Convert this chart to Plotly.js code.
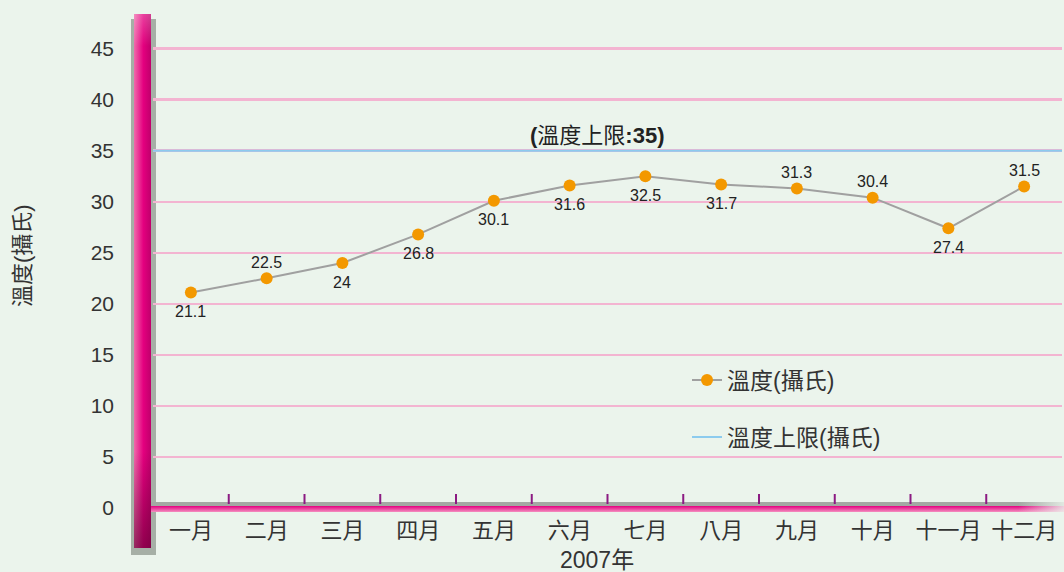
<!DOCTYPE html>
<html>
<head>
<meta charset="utf-8">
<script src="https://cdn.plot.ly/plotly-3.0.1.min.js"></script>
<style>html,body{margin:0;padding:0;background:#ebf4ec;}#chart{width:1064px;height:572px;}</style>
</head>
<body>
<div id="chart"></div>
<script>
// ---- data ----
const months = ['一月','二月','三月','四月','五月','六月','七月','八月','九月','十月','十一月','十二月'];
const temps = [21.1, 22.5, 24, 26.8, 30.1, 31.6, 32.5, 31.7, 31.3, 30.4, 27.4, 31.5];
const labelAbove = [false, true, false, false, false, false, false, false, true, true, false, true];
const limitValue = 35;
const yTicks = [0, 5, 10, 15, 20, 25, 30, 35, 40, 45];
const seriesName = '溫度(攝氏)';
const limitName = '溫度上限(攝氏)';
const limitWord = '溫度上限';
const xTitle = '2007年';
const yTitle = '溫度(攝氏)';

// ---- geometry helpers (pixels -> paper) ----
const W = 1064, H = 572;
const ML = 153, MR = 2, MT = 18, MB = 64;
const PW = W - ML - MR, PH = H - MT - MB;
const px = v => (v - ML) / PW;
const py = v => (H - MB - v) / PH;

const FONT = 'Liberation Sans, Arial, Noto Sans CJK TC, sans-serif';
const svgUri = s => 'data:image/svg+xml;charset=utf-8,' + encodeURIComponent(s);

const barSvg = "<svg xmlns='http://www.w3.org/2000/svg' width='17' height='534' viewBox='0 0 17 534' preserveAspectRatio='none'>" +
  "<defs><linearGradient id='h' x1='0' x2='1' y1='0' y2='0'><stop offset='0' stop-color='#f06aab'/><stop offset='0.55' stop-color='#e4007f'/><stop offset='1' stop-color='#c0006b'/></linearGradient>" +
  "<linearGradient id='v' x1='0' x2='0' y1='0' y2='1'><stop offset='0' stop-color='#ffffff' stop-opacity='0.25'/><stop offset='0.06' stop-color='#ffffff' stop-opacity='0'/><stop offset='0.82' stop-color='#5a002e' stop-opacity='0'/><stop offset='1' stop-color='#5a002e' stop-opacity='0.6'/></linearGradient></defs>" +
  "<rect width='17' height='534' fill='url(#h)'/><rect width='17' height='534' fill='url(#v)'/></svg>";

const floorSvg = "<svg xmlns='http://www.w3.org/2000/svg' width='913' height='10' viewBox='0 0 913 10' preserveAspectRatio='none'>" +
  "<defs><linearGradient id='p' x1='0' x2='0' y1='0' y2='1'><stop offset='0' stop-color='#e3007f'/><stop offset='1' stop-color='#f48fc0'/></linearGradient>" +
  "<linearGradient id='f' x1='0' x2='1' y1='0' y2='0'><stop offset='0.95' stop-color='#ebf4ec' stop-opacity='0'/><stop offset='1' stop-color='#ebf4ec' stop-opacity='0.85'/></linearGradient></defs>" +
  "<rect x='0' y='0' width='913' height='4' fill='#a3a8a3'/><rect x='0' y='4' width='913' height='6' fill='url(#p)'/><rect width='913' height='10' fill='url(#f)'/></svg>";

const seriesTrace = {
  type: 'scatter', mode: 'lines+markers',
  x: months, y: temps, name: seriesName,
  line: {color: '#a0a0a0', width: 2},
  marker: {color: '#f39800', size: 12},
  cliponaxis: false, legend: 'legend', hoverinfo: 'skip'
};
const limitTrace = {
  type: 'scatter', mode: 'lines', x: [null], y: [null], name: limitName,
  line: {color: '#8ccbee', width: 2}, legend: 'legend2', hoverinfo: 'skip'
};

const tickMarks = months.slice(0, -1).map((m, i) => ({
  type: 'line', xref: 'x', yref: 'paper', x0: i + 0.5, x1: i + 0.5,
  y0: py(504), y1: py(494), line: {color: '#8b1a82', width: 2}, layer: 'above'
}));

const valueLabels = months.map((m, i) => ({
  text: String(temps[i]), xref: 'x', yref: 'y', x: m, y: temps[i],
  xanchor: 'center', yanchor: 'middle', yshift: labelAbove[i] ? 16 : -19,
  showarrow: false, font: {family: FONT, size: 16, color: '#222'}
}));

const layout = {
  width: W, height: H,
  margin: {l: ML, r: MR, t: MT, b: MB},
  paper_bgcolor: '#ebf4ec', plot_bgcolor: 'rgba(0,0,0,0)',
  font: {family: FONT, color: '#333'},
  showlegend: true,
  xaxis: {
    type: 'category', range: [-0.5, months.length - 0.5],
    showgrid: false, zeroline: false, showline: false, ticks: '',
    tickfont: {family: FONT, size: 22, color: '#333'}, ticklabelstandoff: 7
  },
  yaxis: {
    range: [0, 48], tickvals: yTicks, ticktext: yTicks.map(String),
    showgrid: true, gridcolor: '#f3b4d1', gridwidth: 2.5,
    zeroline: false, showline: false, ticks: '',
    tickfont: {family: FONT, size: 21, color: '#333'}, ticklabelstandoff: 38
  },
  yaxis2: {
    overlaying: 'y', side: 'left', range: [0, 48], tickvals: yTicks.slice(1),
    showgrid: false, zeroline: false, showline: false, showticklabels: false,
    ticks: 'outside', ticklen: 31, tickwidth: 2.5, tickcolor: '#f3b4d1'
  },
  legend: {
    x: px(687), y: py(380), xanchor: 'left', yanchor: 'middle',
    bgcolor: 'rgba(0,0,0,0)', font: {family: FONT, size: 23, color: '#333'}
  },
  legend2: {
    x: px(687), y: py(437), xanchor: 'left', yanchor: 'middle',
    bgcolor: 'rgba(0,0,0,0)', font: {family: FONT, size: 23, color: '#333'}
  },
  shapes: [
    {type: 'rect', xref: 'paper', yref: 'paper', x0: px(131), x1: px(156), y0: py(555), y1: py(19),
     fillcolor: 'rgba(110,118,110,0.55)', line: {width: 0}, layer: 'below'},
    {type: 'line', xref: 'paper', yref: 'y', x0: 0, x1: 1, y0: limitValue, y1: limitValue,
     line: {color: '#8ccbee', width: 2}, layer: 'above'}
  ].concat(tickMarks),
  images: [
    {source: svgUri(barSvg), xref: 'paper', yref: 'paper', x: px(134), y: py(14),
     sizex: px(151) - px(134), sizey: py(14) - py(548), xanchor: 'left', yanchor: 'top',
     sizing: 'stretch', layer: 'above'},
    {source: svgUri(floorSvg), xref: 'paper', yref: 'paper', x: px(151), y: py(502),
     sizex: px(1064) - px(151), sizey: py(502) - py(512), xanchor: 'left', yanchor: 'top',
     sizing: 'stretch', layer: 'above'}
  ],
  annotations: [
    {text: '<b>(</b>' + limitWord + '<b>:' + limitValue + ')</b>',
     xref: 'paper', yref: 'y', x: px(597), y: limitValue, yanchor: 'bottom', yshift: 1,
     showarrow: false, font: {family: FONT, size: 22, color: '#222'}},
    {text: xTitle, xref: 'paper', yref: 'paper', x: px(597), y: py(560), xanchor: 'center', yanchor: 'middle',
     showarrow: false, font: {family: FONT, size: 23, color: '#333'}},
    {text: yTitle, xref: 'paper', yref: 'paper', x: px(22), y: py(256), xanchor: 'center', yanchor: 'middle',
     textangle: -90, showarrow: false, font: {family: FONT, size: 22, color: '#333'}}
  ].concat(valueLabels)
};

Plotly.newPlot('chart', [seriesTrace, limitTrace], layout, {displayModeBar: false, staticPlot: true});
</script>
</body>
</html>
